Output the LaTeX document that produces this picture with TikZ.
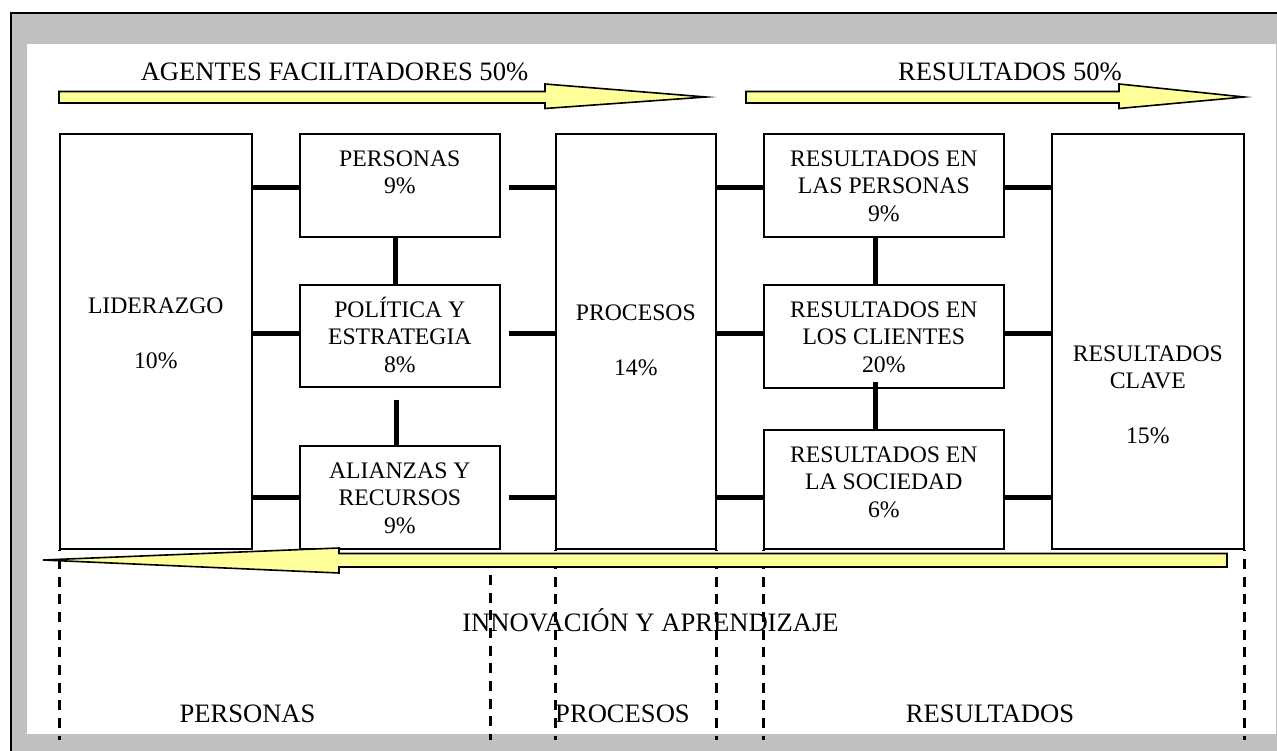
\documentclass[tikz,border=0pt]{standalone}
\usepackage{fontspec}
\setmainfont{Liberation Serif}
\usetikzlibrary{calc}
\definecolor{band}{RGB}{192,192,192}
\definecolor{pale}{RGB}{255,255,153}
% fixed-height line strut so that every text line is 27.5pt apart
\newcommand\ls{\rule[-5.5pt]{0pt}{27.5pt}}
\begin{document}
\begin{tikzpicture}[x=1pt,y=-1pt,
  crit/.style={draw=black, line width=1.6pt, fill=white, rectangle, inner sep=0pt, anchor=north west},
  txt/.style={font=\fontsize{23.7}{27.5}\selectfont, align=center, inner sep=0pt, anchor=north},
  head/.style={font=\fontsize{26.6}{30}\selectfont, inner sep=0pt, anchor=base},
  link/.style={line width=5pt},
  sep/.style={line width=3pt, dash pattern=on 10pt off 7.67pt, dash phase=8.37pt},
  flow/.style={draw=black, line width=1.6pt, fill=pale, line join=miter, miter limit=20}]
\useasboundingbox (0,0) rectangle (1277,751);

% frame
\fill[band] (10,12.5) rectangle (1277,751);
\fill[white] (27,44) rectangle (1275.5,734);
\draw[line width=2pt] (11,751) -- (11,13.5) -- (1277,13.5);

% criteria boxes
\node[crit, minimum width=192, minimum height=415] (lid)   at (59,133)  {};
\node[crit, minimum width=200, minimum height=103] (pers)  at (299,133) {};
\node[crit, minimum width=200, minimum height=102] (pol)   at (299,284) {};
\node[crit, minimum width=200, minimum height=103] (ali)   at (299,445) {};
\node[crit, minimum width=160, minimum height=415] (proc)  at (555,133) {};
\node[crit, minimum width=240, minimum height=103] (rlp)   at (763,133) {};
\node[crit, minimum width=240, minimum height=103] (rcl)   at (763,284) {};
\node[crit, minimum width=240, minimum height=119] (rsoc)  at (763,429) {};
\node[crit, minimum width=192, minimum height=415] (clave) at (1051,133) {};

% box texts
\node[txt] (lidT)   at ([yshift=-158pt]lid.north)   {\ls LIDERAZGO\\\ls\\\ls 10\%};
\node[txt] (persT)  at ([yshift=-11pt]pers.north)   {\ls PERSONAS\\\ls 9\%};
\node[txt] (polT)   at ([yshift=-11pt]pol.north)    {\ls POLÍTICA Y\\\ls ESTRATEGIA\\\ls 8\%};
\node[txt] (aliT)   at ([yshift=-11pt]ali.north)    {\ls ALIANZAS Y\\\ls RECURSOS\\\ls 9\%};
\node[txt] (procT)  at ([yshift=-165pt]proc.north)  {\ls PROCESOS\\\ls\\\ls 14\%};
\node[txt] (rlpT)   at ([yshift=-11pt]rlp.north)    {\ls RESULTADOS EN\\\ls LAS PERSONAS\\\ls 9\%};
\node[txt] (rclT)   at ([yshift=-11pt]rcl.north)    {\ls RESULTADOS EN\\\ls LOS CLIENTES\\\ls 20\%};
\node[txt] (rsocT)  at ([yshift=-11pt]rsoc.north)   {\ls RESULTADOS EN\\\ls LA SOCIEDAD\\\ls 6\%};
\node[txt] (claveT) at ([yshift=-206pt]clave.north) {\ls RESULTADOS\\\ls CLAVE\\\ls\\\ls 15\%};

% horizontal links, one row per level
\coordinate (r1) at (0,188);
\coordinate (r2) at (0,333);
\coordinate (r3) at (0,497);
\foreach \r in {r1,r2,r3}{
  \draw[link] (lid.east |- \r) -- (pers.west |- \r);
  \draw[link, shorten <=8pt] (pers.east |- \r) -- (proc.west |- \r);
  \draw[link] (proc.east |- \r) -- (rlp.west |- \r);
  \draw[link] (rlp.east |- \r) -- (clave.west |- \r);
}
% vertical links
\draw[link] ([xshift=-4pt]pers.south) -- ([xshift=-4pt]pol.north);
\draw[link, shorten <=12pt] ([xshift=-3pt]pol.south) -- ([xshift=-3pt]ali.north);
\draw[link] ([xshift=-8pt]rlp.south) -- ([xshift=-8pt]rcl.north);
\draw[link, shorten <=-7pt] ([xshift=-8pt]rcl.south) -- ([xshift=-8pt]rsoc.north);

% headings and column labels
\node[head] (agt) at (334.5,81) {AGENTES FACILITADORES 50\%};
\node[head] (res) at (1010,81) {RESULTADOS 50\%};
\node[head] (inn) at (650.5,631) {INNOVACIÓN Y APRENDIZAJE};
\node[head] (colP) at (247.5,722) {PERSONAS};
\node[head] (colQ) at (622.5,722) {PROCESOS};
\node[head] (colR) at (990,722) {RESULTADOS};

% dashed column separators
\coordinate (bot) at (0,740);
\coordinate (d2) at (490,548);
\draw[sep] (lid.south west) -- (lid.south west |- bot);
\draw[sep] (d2) -- (d2 |- bot);
\draw[sep] (proc.south west) -- (proc.south west |- bot);
\draw[sep] (proc.south east) -- (proc.south east |- bot);
\draw[sep] (rsoc.south west) -- (rsoc.south west |- bot);
\draw[sep] (clave.south east) -- (clave.south east |- bot);

% block arrows
\draw[flow] (59,91.5) -- (545,91.5) -- (545,84) -- (706,97) -- (545,108.5) -- (545,103) -- (59,103) -- cycle;
\draw[flow] (746,91.5) -- (1119,91.5) -- (1119,84) -- (1244,97) -- (1119,108.5) -- (1119,103) -- (746,103) -- cycle;
\draw[flow] (1227,553.5) -- (339,553.5) -- (339,548) -- (43,560) -- (339,573) -- (339,567) -- (1227,567) -- cycle;
\end{tikzpicture}
\end{document}
